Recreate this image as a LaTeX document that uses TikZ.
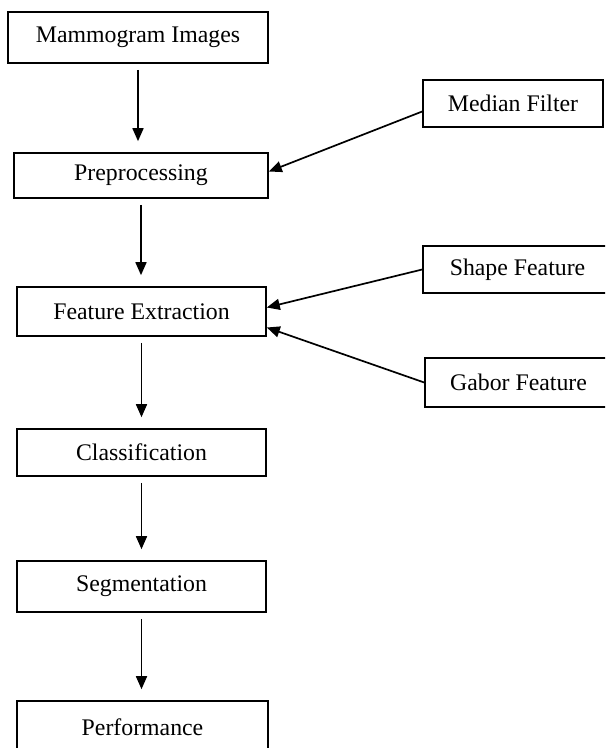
\documentclass[tikz,border=0pt]{standalone}
\usepackage{fontspec}
\setmainfont{Liberation Serif}
\usetikzlibrary{arrows.meta}

\begin{document}
\begin{tikzpicture}[x=0.5pt, y=-0.5pt]
            \tikzstyle{every node}=[rectangle, draw=black, line width=0.8pt, inner sep=0pt, minimum width=124.5pt, minimum height=24pt, font=\fontsize{11.9}{14}\selectfont, text=black]
            \tikzstyle{side}=[minimum width=90pt]
            \tikzstyle{edge}=[black, line width=0.85pt, -{Triangle[width=5.5pt, length=6.5pt]}]
            \tikzstyle{down}=[edge, shorten <=3pt, shorten >=5.5pt]

            \clip (0,0) rectangle (605,748);

            % main chain
            \node (img) at (138,37.5) [minimum width=130pt, minimum height=25.5pt] {Mammogram Images};
            \node (pre) at (141,175.5) [minimum width=127pt, minimum height=22.5pt] {Preprocessing};
            \node (feat) at (141.5,311.5) [minimum height=24.5pt] {Feature Extraction};
            \node (cls) at (141.5,452.5) [minimum height=23.5pt] {Classification};
            \node (seg) at (141.5,586.5) [minimum height=25.5pt] {Segmentation};
            \node (perf) at (142.5,727) [minimum width=125.5pt, minimum height=26pt] {Performance};

            % inputs on the right
            \node[side] (med) at (513,103.5) [minimum height=23.5pt] {Median Filter};
            \node[side] (shp) at (517.5,269.5) [minimum width=94.5pt, minimum height=23.5pt] {Shape Feature};
            \node[side] (gab) at (518.5,382.5) [minimum width=93.5pt, minimum height=24.5pt] {Gabor Feature};

            \draw[down] (img) -- (img |- pre.north);
            \draw[down] (pre) -- (pre |- feat.north);
            \draw[down] (feat) -- (feat |- cls.north);
            \draw[down] (cls) -- (cls |- seg.north);
            \draw[down] (seg) -- (seg |- perf.north);

            \draw[edge] ([yshift=-4pt]med.west) -- ([yshift=2pt]pre.east);
            \draw[edge] (shp.west) -- ([yshift=2pt]feat.east);
            \draw[edge] (gab.west) -- ([yshift=-8pt]feat.east);
        \end{tikzpicture}
\end{document}
